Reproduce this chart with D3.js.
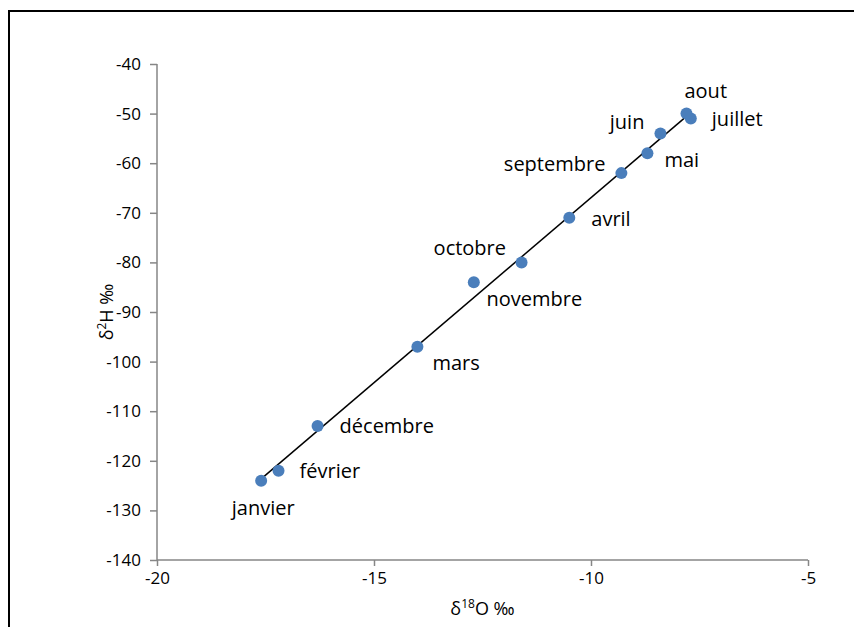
<!DOCTYPE html>
<html>
<head>
<meta charset="utf-8">
<script src="https://cdn.jsdelivr.net/npm/d3@7"></script>
<style>
  body { margin: 0; background: #fff; }
  svg text { font-family: "Open Sans", Lato, "DejaVu Sans", sans-serif; fill: #000; }
</style>
</head>
<body>
<div id="chart"></div>
<script>
// monthly isotope values
var months = ["janvier", "février", "mars", "avril", "mai", "juin",
  "juillet", "aout", "septembre", "octobre", "novembre", "décembre"];
var d18O = [-17.6, -17.2, -14.0, -10.5, -8.7, -8.4, -7.7, -7.8, -9.3, -12.7, -11.6, -16.3];
var d2H = [-124, -122, -97, -71, -58, -54, -51, -50, -62, -84, -80, -113];
var xTicks = [-20, -15, -10, -5];
var yTicks = [-40, -50, -60, -70, -80, -90, -100, -110, -120, -130, -140];

// label placement per month: [dx, dy, anchor]
var labelPos = {
  "janvier": [2, 27, "middle"],
  "février": [21, 0, "start"],
  "mars": [15, 16, "start"],
  "avril": [22, 1, "start"],
  "mai": [17, 7, "start"],
  "juin": [-16, -11, "end"],
  "juillet": [21, 0, "start"],
  "aout": [-2, -23, "start"],
  "septembre": [-16, -9, "end"],
  "octobre": [-4, -34, "middle"],
  "novembre": [-35, 37, "start"],
  "décembre": [22, 0, "start"]
};

var W = 854, H = 627;
var svg = d3.select("#chart").append("svg")
  .attr("width", W)
  .attr("height", H);

// chart border
svg.append("rect")
  .attr("x", 9).attr("y", 11)
  .attr("width", 900).attr("height", 700)
  .attr("fill", "none")
  .attr("stroke", "#000")
  .attr("stroke-width", 2);

var x = d3.scaleLinear().domain([-20, -5]).range([157, 808]);
var y = d3.scaleLinear().domain([-140, -40]).range([560, 64]);

var fmt = function (d) { return String(d); };
var xAxis = d3.axisBottom(x).tickValues(xTicks).tickFormat(fmt).tickSize(6).tickPadding(6);
var yAxis = d3.axisLeft(y).tickValues(yTicks).tickFormat(fmt).tickSize(7).tickPadding(9);

var gx = svg.append("g")
  .attr("transform", "translate(0," + y(-140) + ")")
  .call(xAxis);
var gy = svg.append("g")
  .attr("transform", "translate(" + x(-20) + ",0)")
  .call(yAxis);

[gx, gy].forEach(function (g) {
  g.select(".domain").attr("stroke", "#868686").attr("stroke-width", 1.5);
  g.selectAll(".tick line").attr("stroke", "#868686").attr("stroke-width", 1.5);
  g.selectAll(".tick text").style("font-size", "17px").attr("fill", "#000");
});
gx.select(".domain").attr("d", "M" + x(-20) + ",0H" + x(-5));
gy.select(".domain").attr("d", "M0," + y(-40) + "V" + y(-140));

// axis titles
var xt = svg.append("text")
  .attr("x", (x(-20) + x(-5)) / 2)
  .attr("y", 615)
  .attr("text-anchor", "middle")
  .style("font-size", "18px");
xt.append("tspan").text("δ");
xt.append("tspan").attr("dy", -7).style("font-size", "12px").text("18");
xt.append("tspan").attr("dy", 7).text("O ‰");

var yt = svg.append("text")
  .attr("transform", "translate(113," + ((y(-40) + y(-140)) / 2) + ") rotate(-90)")
  .attr("text-anchor", "middle")
  .style("font-size", "18px");
yt.append("tspan").text("δ");
yt.append("tspan").attr("dy", -7).style("font-size", "12px").text("2");
yt.append("tspan").attr("dy", 7).text("H ‰");

// linear trend line
var pts = months.map(function (m, i) { return { m: m, x: d18O[i], y: d2H[i] }; });
var mx = d3.mean(pts, function (d) { return d.x; });
var my = d3.mean(pts, function (d) { return d.y; });
var slope = d3.sum(pts, function (d) { return (d.x - mx) * (d.y - my); }) /
  d3.sum(pts, function (d) { return (d.x - mx) * (d.x - mx); });
var icpt = my - slope * mx;
var ext = d3.extent(d18O);
svg.append("line")
  .attr("x1", x(ext[0])).attr("y1", y(slope * ext[0] + icpt))
  .attr("x2", x(ext[1])).attr("y2", y(slope * ext[1] + icpt))
  .attr("stroke", "#000")
  .attr("stroke-width", 1.5);

svg.selectAll(".dot")
  .data(pts)
  .enter().append("circle")
  .attr("class", "dot")
  .attr("cx", function (d) { return x(d.x); })
  .attr("cy", function (d) { return y(d.y); })
  .attr("r", 6)
  .attr("fill", "#4a7ebb");

svg.selectAll(".lbl")
  .data(pts)
  .enter().append("text")
  .attr("class", "lbl")
  .attr("x", function (d) { return x(d.x) + labelPos[d.m][0]; })
  .attr("y", function (d) { return y(d.y) + labelPos[d.m][1]; })
  .attr("dy", "0.35em")
  .attr("text-anchor", function (d) { return labelPos[d.m][2]; })
  .style("font-size", "20px")
  .text(function (d) { return d.m; });
</script>
</body>
</html>
